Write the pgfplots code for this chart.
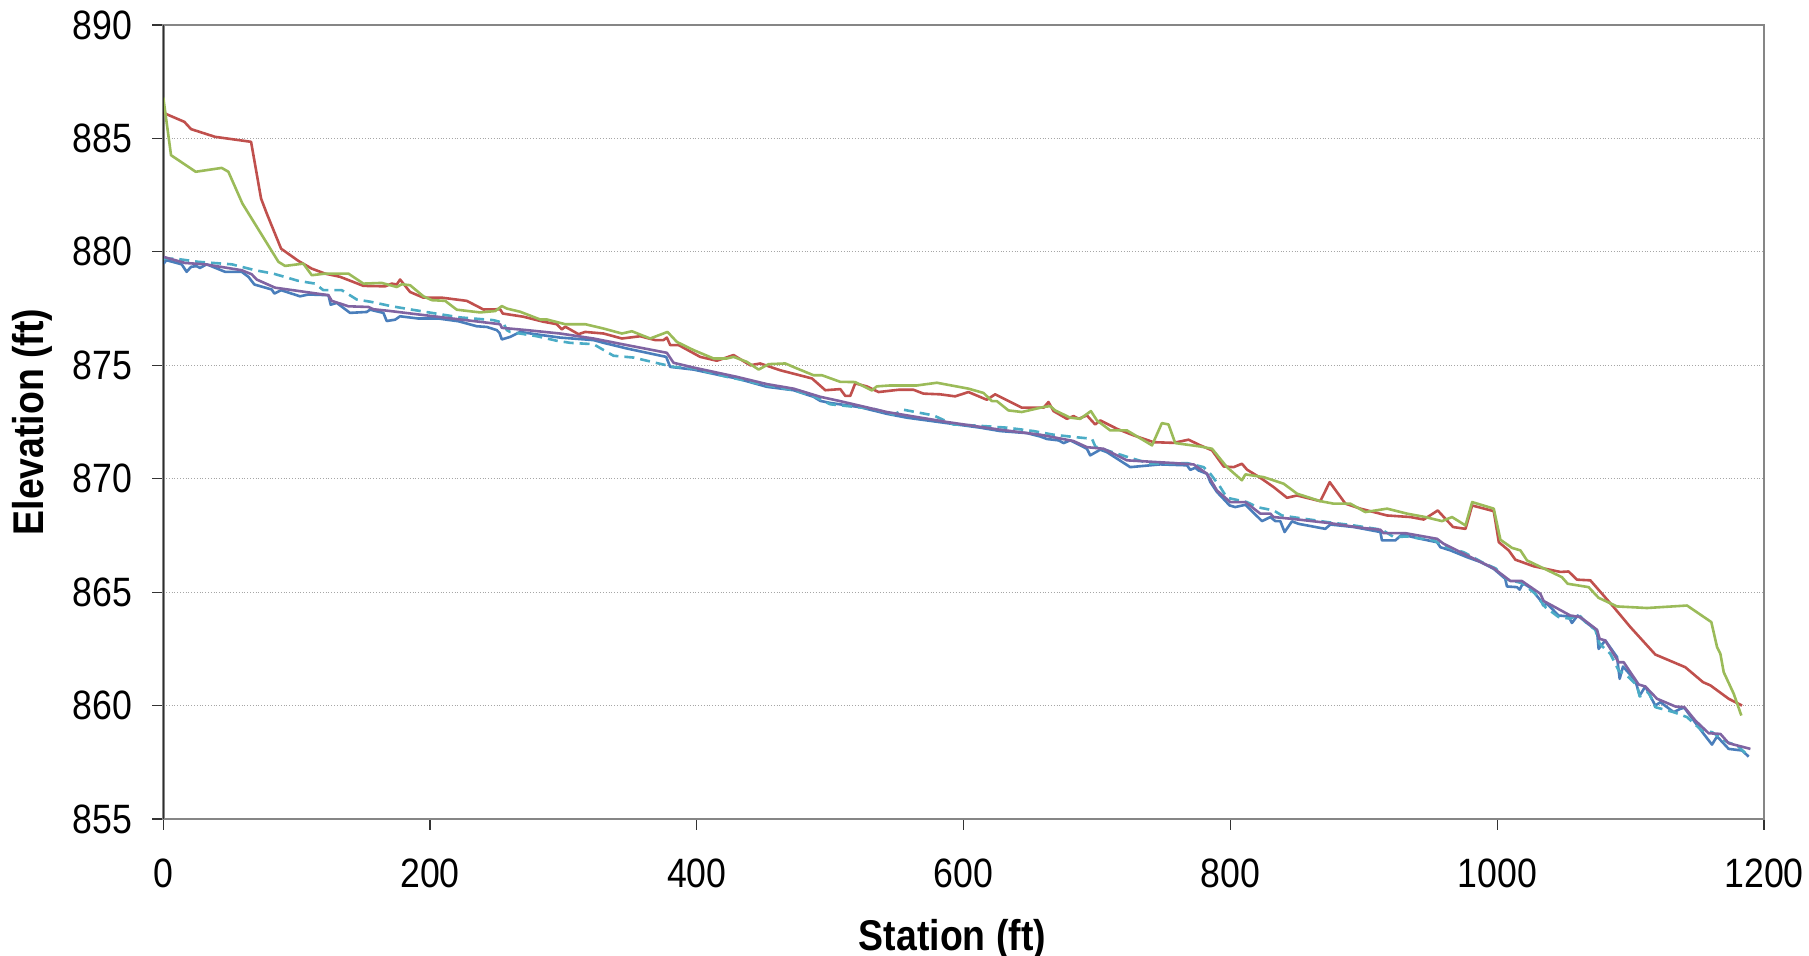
\documentclass[border=0pt]{standalone}
\usepackage{pgfplots}
\pgfplotsset{compat=1.18}
\usepackage{fontspec}
\setmainfont{Liberation Sans}
\newfontfamily\tickfont[FakeStretch=0.87]{Liberation Sans}
\definecolor{cBlue}{HTML}{4A7EBB}
\definecolor{cRed}{HTML}{C0504D}
\definecolor{cGreen}{HTML}{9BBB59}
\definecolor{cPurple}{HTML}{8064A2}
\definecolor{cCyan}{HTML}{4BACC6}
\definecolor{cFrame}{HTML}{868686}
\begin{document}
\begin{tikzpicture}
\begin{axis}[
  scale only axis, width=800.35pt, height=397pt,
  xmin=0, xmax=1200, ymin=855, ymax=890,
  xtick={0,200,...,1200}, ytick={855,860,...,890},
  xtick pos=left, ytick pos=left,
  tick align=outside, major tick length=5.5pt,
  tick style={black!80, line width=0.6pt},
  axis line style={draw=cFrame, line width=1.3pt},
  ymajorgrids, grid style={gray!70, densely dotted, line width=0.5pt},
  /pgf/number format/1000 sep={},
  /pgf/number format/assume math mode=true,
  ticklabel style={font=\tickfont\fontsize{20.5}{24}\selectfont},
  yticklabel style={xshift=-6.5pt},
  xticklabel style={yshift=-11pt},
  label style={font=\tickfont\bfseries\fontsize{21.5}{25}\selectfont},
  xlabel={Station (ft)}, ylabel={Elevation (ft)},
  xlabel style={at={(axis description cs:0.493,-0.151)}, anchor=center},
  ylabel style={at={(axis description cs:-0.082,0.5)}, anchor=center},
  every axis plot/.append style={line width=1.3pt, line join=round},
]
% blue
\addplot[cBlue] coordinates {
(0,879.48)(2.5,879.63)(13.8,879.45)(17.5,879.12)(20.8,879.34)(25,879.37)(27.5,879.29)(32.5,879.45)(46.3,879.12)(58.8,879.12)(63.8,878.9)(68.3,878.56)(81.3,878.34)(83.3,878.16)(88.3,878.31)(102.5,878.04)(108.8,878.12)(123.8,878.09)(125.5,877.67)(130,877.75)(140,877.31)(152.5,877.35)(155,877.45)(165,877.31)(167.5,876.95)(173.8,877.01)(177.5,877.16)(191.3,877.06)(206.3,877.06)(221.3,876.94)(235,876.72)(242.5,876.69)(250,876.55)(252,876.43)(253.8,876.14)(260,876.25)(267.5,876.47)(280,876.36)(297.5,876.22)(322.5,876.11)(330,875.99)(347.5,875.74)(377,875.37)(380,874.93)(397.5,874.81)(417.5,874.56)(430,874.42)(452.5,874.05)(472.5,873.9)(487.5,873.61)(492.5,873.43)(500,873.34)(522.4,873.15)(542.4,872.86)(557.4,872.69)(587.4,872.45)(612.4,872.25)(627.4,872.1)(647.4,872.01)(657.4,871.86)(662.4,871.75)(671.2,871.69)(674.9,871.57)(679.9,871.69)(692.4,871.32)(694.9,871.03)(702.4,871.28)(707.4,871.17)(724.9,870.51)(747.4,870.63)(767.4,870.59)(769.9,870.39)(773.6,870.48)(776.2,870.36)(782.4,870.22)(784.9,869.85)(789.9,869.41)(792.4,869.26)(799.4,868.82)(803.6,868.75)(811.2,868.85)(823.7,868.13)(829.9,868.31)(833.7,868.13)(837.4,868.13)(840.6,867.65)(846.1,868.12)(851.1,868.01)(871.1,867.79)(874.9,867.98)(892.4,867.87)(912.4,867.65)(913.6,867.28)(923.6,867.28)(928.6,867.54)(942.4,867.35)(954.9,867.2)(957.4,866.98)(964.9,866.84)(977.4,866.54)(987.3,866.33)(997.3,866.03)(1006,865.59)(1007.3,865.25)(1014.8,865.22)(1016.8,865.11)(1019.3,865.4)(1024.8,865.19)(1033.5,864.56)(1034.5,864.41)(1037.3,864.49)(1046,863.97)(1053.5,863.93)(1056,863.64)(1060.3,863.97)(1068.5,863.58)(1074.8,863.31)(1076,862.5)(1081,862.87)(1089.8,862.14)(1091.8,861.18)(1094.3,861.72)(1103.5,861.11)(1106.8,860.44)(1111,860.84)(1118.5,860.0)(1122.3,860.15)(1132.3,859.71)(1137.3,859.86)(1140.3,859.9)(1147.3,859.34)(1154.8,858.75)(1161,858.28)(1164.8,858.64)(1173.5,858.09)(1183.5,858.02)(1188.5,857.75)
};
% red
\addplot[cRed] coordinates {
(0,886.13)(15.8,885.73)(20.8,885.41)(38.8,885.07)(65.8,884.85)(73.3,882.35)(77.5,881.7)(88.3,880.14)(101.3,879.6)(111.3,879.26)(121.3,879.04)(132.5,878.9)(150,878.5)(166.3,878.48)(171.3,878.6)(175,878.56)(177.5,878.78)(185,878.23)(195,877.98)(208.8,877.98)(227.5,877.84)(240,877.46)(252.5,877.47)(254.5,877.28)(270,877.14)(285,876.92)(295,876.81)(298.8,876.58)(301.3,876.7)(311.3,876.37)(316.3,876.47)(330,876.4)(343.8,876.18)(357.5,876.28)(368.8,876.11)(375,876.11)(377.5,876.22)(380,875.89)(386.3,875.89)(402.5,875.37)(415,875.2)(427.5,875.45)(440,875.0)(447.5,875.08)(462.5,874.78)(486.3,874.42)(496.3,873.9)(507.5,873.95)(511.3,873.65)(515,873.65)(518.7,874.2)(527.4,874.07)(536.2,873.82)(551.2,873.92)(562.4,873.92)(569.9,873.75)(582.4,873.72)(593.6,873.63)(603.6,873.82)(617.4,873.48)(623.6,873.72)(643.6,873.13)(659.9,873.13)(663.6,873.38)(667.4,872.98)(677.4,872.64)(682.4,872.76)(686.2,872.64)(692.4,872.79)(698.6,872.39)(702.4,872.57)(714.9,872.2)(727.4,871.91)(742.4,871.61)(757.4,871.58)(768.6,871.72)(777.4,871.47)(786.2,871.25)(794.9,870.54)(802.4,870.51)(808.6,870.66)(812.4,870.4)(822.4,870.04)(832.4,869.63)(842.4,869.16)(849.9,869.26)(867.4,869.01)(874.4,869.85)(886.2,868.9)(897.4,868.68)(917.4,868.38)(934.9,868.31)(944.9,868.2)(955.4,868.6)(966.9,867.87)(976.2,867.79)(981.2,868.82)(997.4,868.57)(1001.2,867.2)(1008.6,866.84)(1013.6,866.43)(1027.3,866.14)(1047.3,865.89)(1053.5,865.91)(1059.8,865.55)(1069.8,865.52)(1087.3,864.34)(1099.8,863.46)(1118.5,862.25)(1141,861.69)(1154.3,861.03)(1159.8,860.89)(1173.5,860.3)(1183.5,860.0)
};
% green
\addplot[cGreen] coordinates {
(0,886.8)(5.8,884.26)(24.3,883.53)(43.8,883.7)(48.8,883.53)(59.3,882.13)(86.3,879.56)(91.3,879.38)(105,879.48)(111.3,878.97)(121.3,879.04)(138.8,879.04)(150,878.6)(163.8,878.63)(175,878.45)(178.8,878.57)(185,878.53)(195,878.04)(201.3,877.87)(211.3,877.84)(220,877.45)(237.5,877.33)(248.8,877.39)(253.8,877.61)(257.5,877.5)(267.5,877.36)(282.5,877.02)(287.5,877.02)(301.3,876.81)(316.3,876.81)(330,876.62)(343.8,876.4)(351.3,876.5)(365,876.18)(378,876.47)(385,876.03)(397.5,875.67)(412.5,875.3)(422.5,875.3)(427.5,875.37)(437.5,875.15)(446.3,874.81)(453.8,875.05)(466.3,875.08)(475,874.86)(487.5,874.56)(493.8,874.56)(507.5,874.27)(518.6,874.26)(531.2,873.89)(534.9,874.07)(544.9,874.11)(564.9,874.11)(579.9,874.23)(603.6,873.97)(614.9,873.78)(621.2,873.42)(624.9,873.42)(633.6,873.01)(643.6,872.94)(659.9,873.16)(664.9,873.2)(668.6,873.01)(679.9,872.69)(687.4,872.64)(695.4,872.98)(699.9,872.57)(709.9,872.13)(722.4,872.13)(741.2,871.47)(748.6,872.45)(753.6,872.39)(758.6,871.57)(777.4,871.42)(786.2,871.32)(797.4,870.51)(808.6,869.93)(811.2,870.19)(824.9,870.07)(839.9,869.78)(849.9,869.34)(867.4,869.01)(877.4,868.9)(889.9,868.9)(901.1,868.53)(917.4,868.68)(932.4,868.46)(946.1,868.31)(958.6,868.13)(966.1,868.31)(976.2,867.94)(981.2,868.97)(997.4,868.68)(1002.4,867.31)(1011.1,866.95)(1017.4,866.84)(1022.3,866.4)(1048.5,865.66)(1052.8,865.37)(1068.5,865.22)(1076,864.75)(1089.8,864.37)(1112.3,864.3)(1142.3,864.41)(1160.5,863.68)(1164.8,862.58)(1167.3,862.28)(1169.8,861.47)(1177.3,860.52)(1183,859.56)
};
% cyan dashed
\addplot[cCyan, dash pattern=on 5pt off 3pt] coordinates {
(0,879.7)(8.8,879.7)(26.3,879.56)(51.3,879.45)(68.8,879.19)(82.5,879.04)(101.3,878.72)(113.8,878.6)(120,878.31)(133.8,878.31)(145,877.9)(156.3,877.79)(171.3,877.6)(193.8,877.38)(222.5,877.11)(247.5,876.99)(255,876.87)(257.5,876.55)(260,876.47)(280,876.28)(295,876.08)(305,875.99)(322.5,875.93)(332.5,875.59)(337.5,875.42)(352.5,875.34)(371.3,875.08)(382.5,874.93)(397.5,874.86)(422.5,874.49)(435,874.34)(447.5,874.17)(472.5,873.9)(487.5,873.64)(500,873.28)(532.4,873.08)(547.4,872.83)(554.9,873.04)(577.4,872.79)(592.4,872.39)(607.4,872.35)(632.4,872.25)(652.4,872.1)(667.4,871.94)(682.4,871.84)(696.2,871.76)(698.7,871.42)(707.4,871.25)(724.9,870.92)(739.9,870.66)(767.4,870.69)(779.9,870.51)(784.9,870.22)(792.4,869.63)(797.4,869.16)(812.4,868.97)(819.9,868.75)(832.4,868.6)(838.6,868.38)(849.9,868.28)(872.4,868.09)(892.4,867.94)(913.6,867.75)(922.4,867.43)(932.4,867.45)(952.4,867.28)(962.4,866.98)(974.9,866.76)(989.9,866.28)(998.7,866.05)(1007.4,865.55)(1018.5,865.4)(1028.5,864.93)(1036,864.34)(1046,863.9)(1054.8,863.83)(1061,864.02)(1067.3,863.61)(1073.5,863.34)(1076.8,862.72)(1084.8,862.28)(1091,861.55)(1098.5,861.25)(1104.8,860.89)(1106.8,860.4)(1113.5,860.59)(1118.5,859.93)(1132.3,859.71)(1142.3,859.49)(1147.3,859.22)(1153.5,858.9)(1161,858.83)(1172.3,858.39)(1179.8,858.24)(1187.3,857.84)
};
% purple
\addplot[cPurple] coordinates {
(0,879.78)(16.3,879.51)(31.3,879.45)(58.8,879.19)(66.3,879.01)(70,878.78)(83.8,878.42)(123.8,878.09)(126.3,877.84)(138.8,877.6)(153.8,877.57)(157.5,877.47)(168.8,877.4)(222.5,877.02)(252.5,876.81)(253.8,876.65)(272.5,876.55)(297.5,876.4)(322.5,876.18)(347.5,875.89)(377.5,875.55)(382.5,875.11)(397.5,874.9)(430,874.49)(452.5,874.17)(472.5,873.97)(492.5,873.61)(507.4,873.42)(542.4,872.94)(587.4,872.5)(627.4,872.16)(657.4,871.94)(682.4,871.66)(692.4,871.39)(704.9,871.32)(722.4,870.81)(757.4,870.69)(772.4,870.63)(782.4,870.22)(789.9,869.48)(799.9,868.97)(811.2,868.97)(822.4,868.46)(829.9,868.46)(832.4,868.31)(846.1,868.23)(874.9,868.04)(897.4,867.84)(912.4,867.75)(914.9,867.6)(931.1,867.6)(954.9,867.35)(959.9,867.13)(977.4,866.62)(997.4,866.05)(1009.9,865.49)(1018.5,865.49)(1032.3,864.93)(1034.8,864.61)(1054.8,863.97)(1062.3,863.9)(1074.8,863.34)(1076.8,862.94)(1081,862.87)(1091,861.91)(1094.8,861.91)(1106,860.93)(1111,860.84)(1119.8,860.3)(1133.5,859.96)(1140.3,859.93)(1148.5,859.34)(1158.5,858.78)(1167.3,858.75)(1173.5,858.34)(1189.8,858.09)
};
\draw[black, line width=0.9pt] (rel axis cs:0,0) -- (rel axis cs:0,1);
\end{axis}
\pgfresetboundingbox
\path[use as bounding box] (-81.65pt,-68.5pt) rectangle (822.85pt,409.5pt);
\end{tikzpicture}
\end{document}
